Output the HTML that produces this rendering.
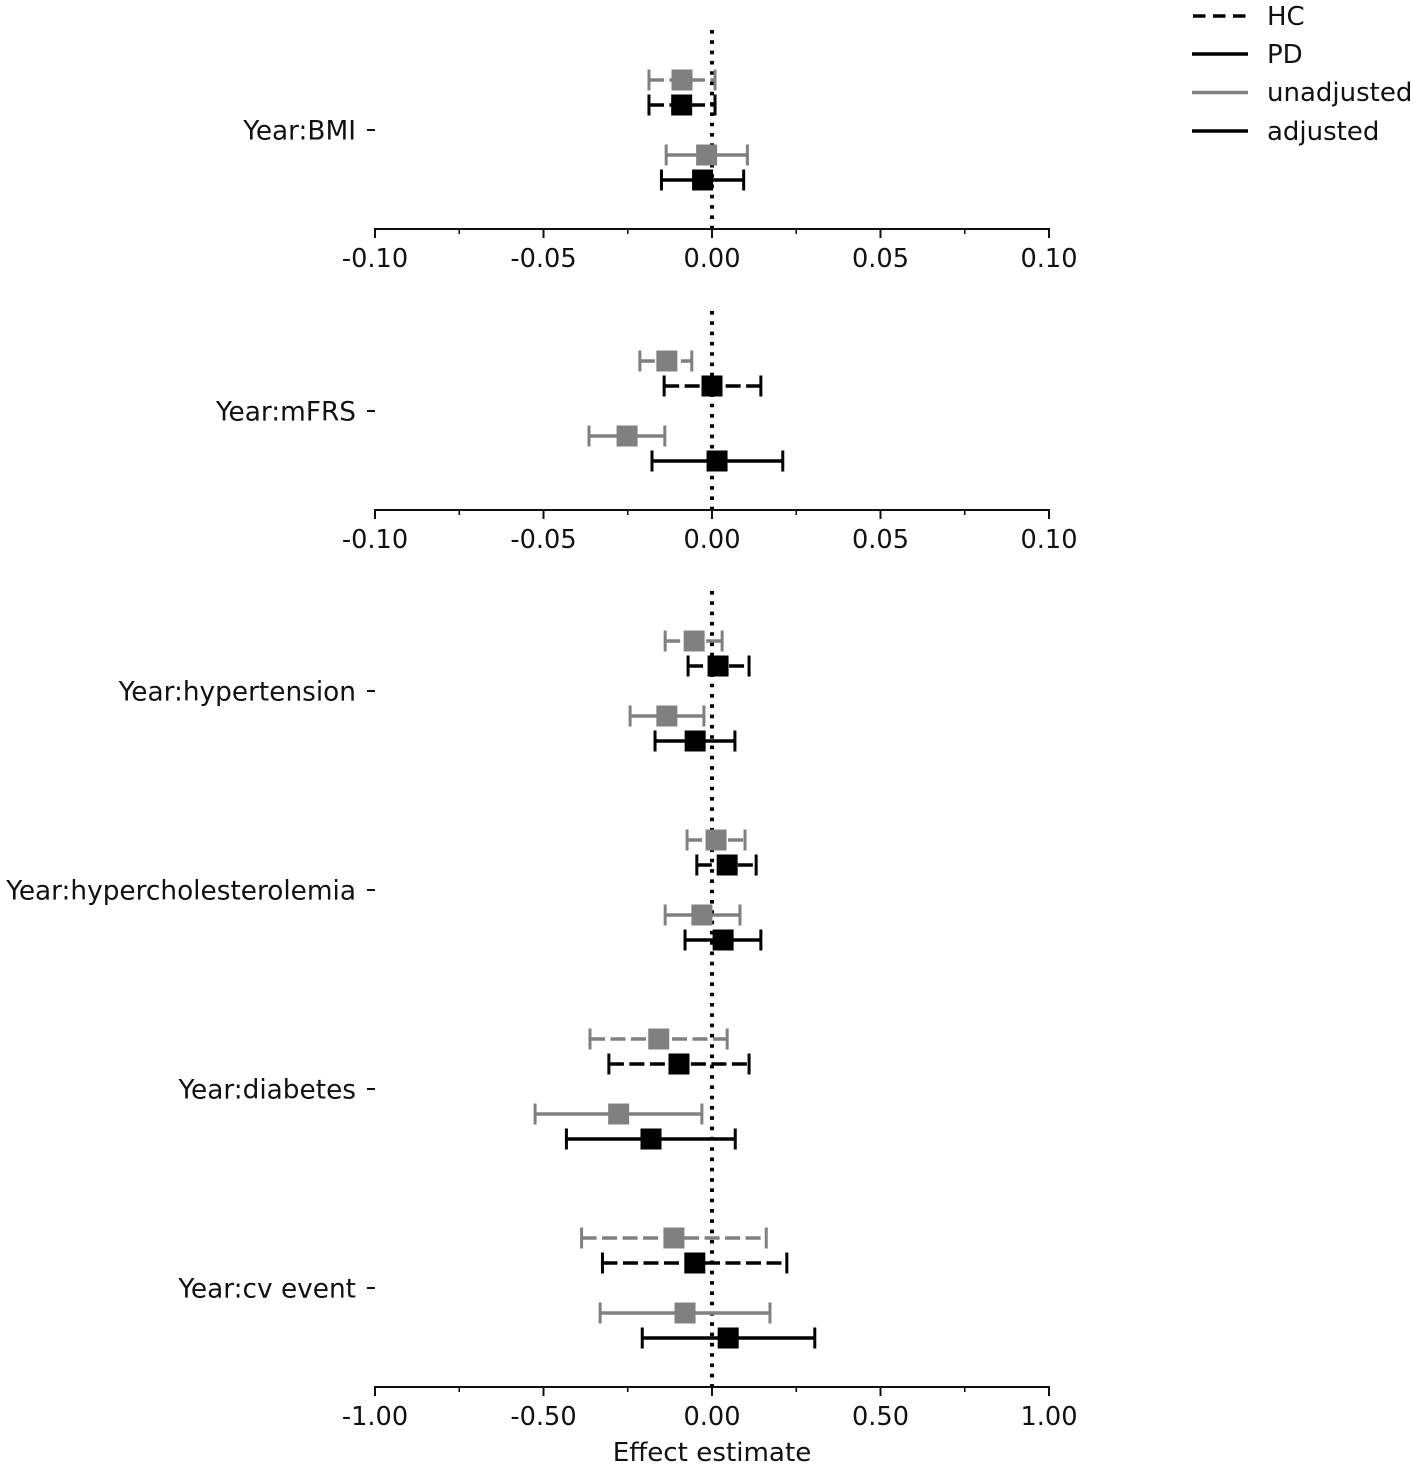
<!DOCTYPE html>
<html lang="en">
<head>
<meta charset="utf-8">
<title>Effect estimates forest plot</title>
<style>
html,body{margin:0;padding:0;background:#fff;}
svg{display:block;}
text{font-family:"DejaVu Sans","Liberation Sans",sans-serif;font-size:25.6px;fill:#111;}
text.y-label{font-size:26.35px;}
text.legend-label{font-size:26px;}
text.axis-title{font-size:26.15px;}
</style>
</head>
<body>
<svg id="chart" xmlns="http://www.w3.org/2000/svg" width="1417" height="1468" viewBox="0 0 1417 1468">
  <g id="plot"></g>
  <g>
    <line x1="1193" x2="1247" y1="16" y2="16" stroke="#000" stroke-width="3.6" stroke-dasharray="12.5 7.5"/>
    <text class="legend-label" x="1267" y="25">HC</text>
    <line x1="1192" x2="1248" y1="54" y2="54" stroke="#000" stroke-width="3.6"/>
    <text class="legend-label" x="1267" y="63">PD</text>
    <line x1="1192" x2="1248" y1="92.500" y2="92.500" stroke="#808080" stroke-width="3.6"/>
    <text class="legend-label" x="1267" y="101">unadjusted</text>
    <line x1="1192" x2="1248" y1="131" y2="131" stroke="#000" stroke-width="3.6"/>
    <text class="legend-label" x="1267" y="140">adjusted</text>
  </g>
  <text class="axis-title" x="712" y="1461" text-anchor="middle">Effect estimate</text>
</svg>
<script>
const categories = ['Year:BMI','Year:mFRS','Year:hypertension','Year:hypercholesterolemia','Year:diabetes','Year:cv event'];

const hcUnadjustedEst = [-0.0089,-0.0134,-0.053,0.012,-0.158,-0.113];
const hcUnadjustedLo  = [-0.0187,-0.0214,-0.139,-0.074,-0.362,-0.387];
const hcUnadjustedHi  = [0.0009,-0.0060,0.030,0.098,0.045,0.161];

const hcAdjustedEst = [-0.0090,0.0000,0.018,0.045,-0.098,-0.051];
const hcAdjustedLo  = [-0.0187,-0.0142,-0.071,-0.045,-0.306,-0.325];
const hcAdjustedHi  = [0.0009,0.0145,0.110,0.131,0.110,0.222];

const pdUnadjustedEst = [-0.0016,-0.0252,-0.134,-0.030,-0.277,-0.080];
const pdUnadjustedLo  = [-0.0136,-0.0365,-0.243,-0.139,-0.525,-0.332];
const pdUnadjustedHi  = [0.0105,-0.0140,-0.024,0.083,-0.030,0.172];

const pdAdjustedEst = [-0.0028,0.0015,-0.050,0.033,-0.181,0.048];
const pdAdjustedLo  = [-0.0150,-0.0178,-0.169,-0.080,-0.432,-0.207];
const pdAdjustedHi  = [0.0094,0.0210,0.068,0.145,0.069,0.305];

const smallScaleTicks = [-0.10,-0.05,0.00,0.05,0.10];
const largeScaleTicks = [-1.00,-0.50,0.00,0.50,1.00];

const NS = 'http://www.w3.org/2000/svg';
const plot = document.getElementById('plot');
const GROUP_STEP = 199, X_LEFT = 375, X_RIGHT = 1049;

function make(tag, attrs, parent) {
  const el = document.createElementNS(NS, tag);
  for (const k in attrs) el.setAttribute(k, attrs[k]);
  parent.appendChild(el);
  return el;
}
function xScale(value, ticks) {
  const lo = ticks[0], hi = ticks[ticks.length - 1];
  return X_LEFT + (value - lo) / (hi - lo) * (X_RIGHT - X_LEFT);
}
function groupCenter(axisY, count, pos) {
  return axisY - (count - pos - 0.5) * GROUP_STEP + 0.5;
}

function drawSeries(g, name, color, dashed, est, lo, hi, catIndex, y, ticks) {
  const s = make('g', {}, g);
  
  
  const xLo = xScale(lo[catIndex], ticks);
  const xHi = xScale(hi[catIndex], ticks);
  const xC = xScale(est[catIndex], ticks);
  const bar = make('line', {x1:xLo, x2:xHi, y1:y, y2:y, stroke:color, 'stroke-width':3.4}, s);
  if (dashed) bar.setAttribute('stroke-dasharray', '15 5.5');
  
  
  const capLo = make('line', {x1:xLo, x2:xLo, y1:y-10.5, y2:y+10.5, stroke:color, 'stroke-width':3}, s);
  
  
  const capHi = make('line', {x1:xHi, x2:xHi, y1:y-10.5, y2:y+10.5, stroke:color, 'stroke-width':3}, s);
  
  
  const marker = make('rect', {x:xC-10.500, y:y-10.500, width:21, height:21, fill:color}, s);
  
  
}

function drawPanel(name, firstCat, count, axisY, ticks) {
  const g = make('g', {}, plot);
  
  

  const zeroX = xScale(0, ticks);
  const ref = make('line', {x1:zeroX, x2:zeroX, y1:axisY - count * GROUP_STEP, y2:axisY, stroke:'#000', 'stroke-width':4, 'stroke-dasharray':'3.6 6.7'}, g);
  
  

  for (let p = 0; p < count; p++) {
    const c = firstCat + p;
    const yC = groupCenter(axisY, count, p);
    drawSeries(g, 'hc-unadjusted', '#808080', true, hcUnadjustedEst, hcUnadjustedLo, hcUnadjustedHi, c, yC - 50, ticks);
    drawSeries(g, 'hc-adjusted', '#000000', true, hcAdjustedEst, hcAdjustedLo, hcAdjustedHi, c, yC - 25, ticks);
    drawSeries(g, 'pd-unadjusted', '#808080', false, pdUnadjustedEst, pdUnadjustedLo, pdUnadjustedHi, c, yC + 25, ticks);
    drawSeries(g, 'pd-adjusted', '#000000', false, pdAdjustedEst, pdAdjustedLo, pdAdjustedHi, c, yC + 50, ticks);

    const yt = make('line', {x1:X_LEFT-8, x2:X_LEFT, y1:yC, y2:yC, stroke:'#111', 'stroke-width':2}, g);
    
    
    const yl = make('text', {x:X_LEFT-19, y:yC+9.5, 'text-anchor':'end', class:'y-label'}, g);
    yl.textContent = categories[c];
    
    
  }

  const axis = make('line', {x1:X_LEFT-1, x2:X_RIGHT+1, y1:axisY, y2:axisY, stroke:'#111', 'stroke-width':2}, g);
  
  

  ticks.forEach(function (t, i) {
    const x = xScale(t, ticks);
    const tick = make('line', {x1:x, x2:x, y1:axisY, y2:axisY+9, stroke:'#111', 'stroke-width':2}, g);
    
    
    const label = make('text', {x:x, y:axisY+38, 'text-anchor':'middle'}, g);
    label.textContent = t.toFixed(2);
    
    
    if (i < ticks.length - 1) {
      const xm = xScale((t + ticks[i + 1]) / 2, ticks);
      const minor = make('line', {x1:xm, x2:xm, y1:axisY, y2:axisY+5, stroke:'#111', 'stroke-width':1.6}, g);
      
      
    }
  });
}

drawPanel('panel-bmi', 0, 1, 229, smallScaleTicks);
drawPanel('panel-mfrs', 1, 1, 510, smallScaleTicks);
drawPanel('panel-conditions', 2, 4, 1387, largeScaleTicks);
</script>
</body>
</html>
